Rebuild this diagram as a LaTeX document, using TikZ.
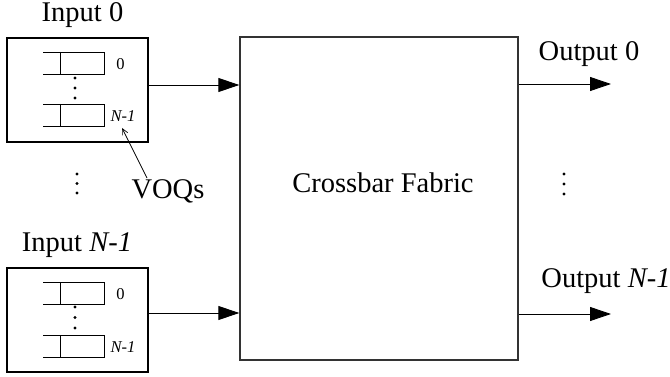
\documentclass[tikz,border=0pt]{standalone}
\usepackage{fontspec}
\setmainfont{Liberation Serif}
\usetikzlibrary{arrows.meta}
\begin{document}
\begin{tikzpicture}[x=1pt,y=-1pt,
  big/.style={font=\fontsize{28.5}{31}\selectfont, inner sep=0pt},
  small/.style={font=\fontsize{16.5}{18}\selectfont, inner sep=0pt},
  frame/.style={draw, line width=1.1pt, inner sep=0pt},
  arr/.style={line width=0.9pt, -{Triangle[length=21pt,width=14pt]}},
  thin arr/.style={line width=0.7pt, -{Straight Barb[length=6pt,width=6pt]}},
  qline/.style={line width=0.9pt},
  dot/.style={circle, fill, inner sep=0pt, minimum size=3.4pt}]
\useasboundingbox (0,0) rectangle (670,377);

% crossbar
\node[frame, draw=black!80, line width=1.4pt, minimum width=278pt, minimum height=323pt] (xbar) at (379,198.5) {};
\node[big] (xlab) at (383,183) {Crossbar Fabric};

% input boxes
\node[frame, minimum width=141pt, minimum height=104pt] (in0) at (77.5,90) {};
\node[frame, minimum width=141pt, minimum height=104pt] (in1) at (77.5,320) {};
\node[big] (in0lab) at (82.5,15) {Input 0};
\node[big] (in1lab) at (77,245) {Input \textit{N-1}};

% queues
\foreach \b/\t in {in0/52, in0/104, in1/282, in1/335}{
  \draw[qline] (43,\t) -- (104,\t) -- (104,\t+22) -- (43,\t+22);
  \draw[qline] (60,\t) -- (60,\t+22);
}
\node[small] (q00) at (120.5,64) {0};
\node[small] (q0n) at (123,116) {\textit{N-1}};
\node[small] (q10) at (120.5,294) {0};
\node[small] (q1n) at (123,347) {\textit{N-1}};

% dots in boxes
\foreach \y in {78,88,98,307,317.5,328}{ \node[dot] at (75,\y) {}; }
% vertical dots
\foreach \y in {174,183.5,193}{ \node[dot] at (77,\y) {}; }
\foreach \y in {174,184,194}{ \node[dot] at (564,\y) {}; }

% VOQs
\node[big] (voq) at (168,191) {VOQs};
\coordinate (voqtail) at (147,178);
\coordinate (voqtip) at (122,128);
\draw[thin arr] (voqtail) -- (voqtip);

% input arrows
\draw[arr] (in0.east |- 0,85) -- (xbar.west |- 0,85);
\draw[arr] (in1.east |- 0,313) -- (xbar.west |- 0,313);

% outputs
\coordinate (out0) at (611,84);
\coordinate (out1) at (611,314);
\draw[arr] (xbar.east |- out0) -- (out0);
\draw[arr] (xbar.east |- out1) -- (out1);
\node[big] (o0lab) at (589,54) {Output 0};
\node[big] (o1lab) at (606,281) {Output \textit{N-1}};
\end{tikzpicture}
\end{document}
